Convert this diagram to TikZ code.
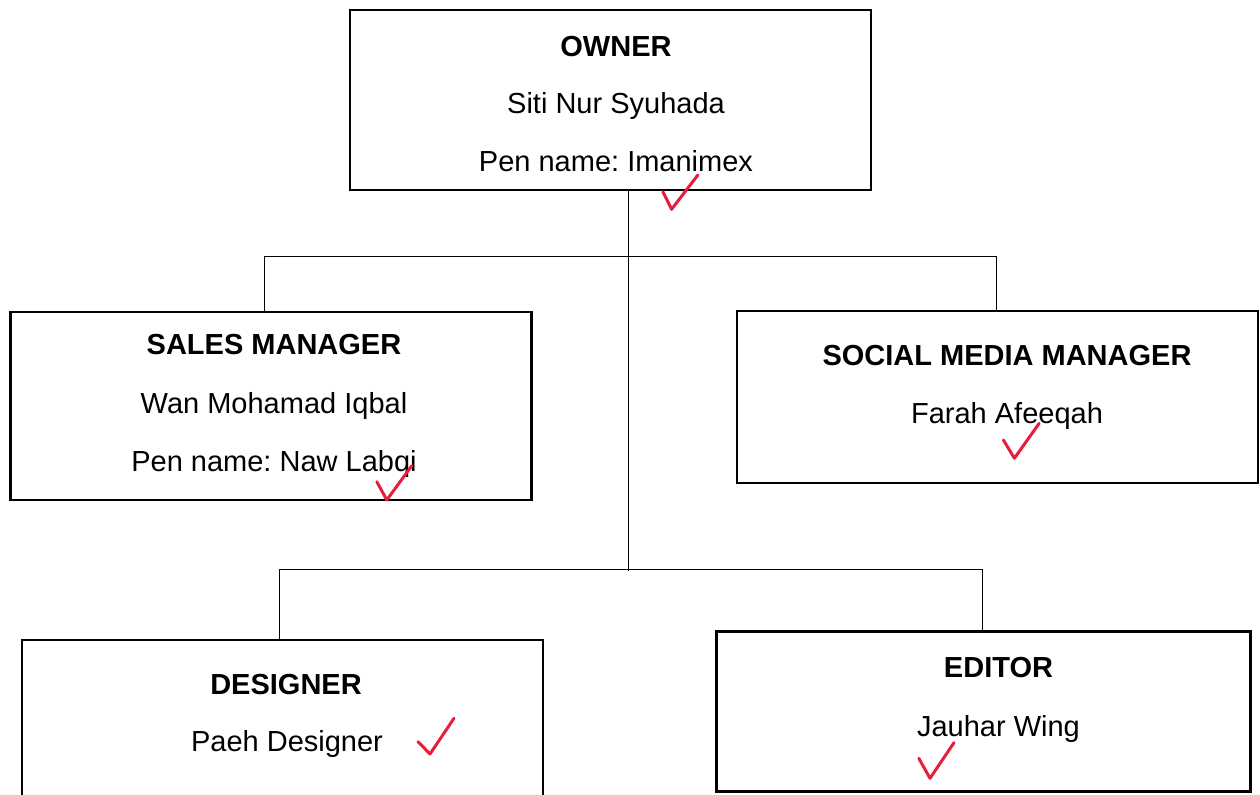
\documentclass[tikz,border=0pt]{standalone}
\usepackage{fontspec}
\setmainfont{Liberation Sans}
\usetikzlibrary{positioning}
\frenchspacing

\definecolor{tickred}{RGB}{228,30,60}

\begin{document}
\begin{tikzpicture}[x=0.5pt, y=-0.5pt,
    font=\fontsize{14.5pt}{17pt}\selectfont,
    post/.style={draw, line width=1.2pt, minimum width=260.5pt, inner sep=0pt},
    role/.style={anchor=base, font=\fontsize{14.5pt}{17pt}\selectfont\bfseries},
    who/.style={anchor=base},
    link/.style={line width=0.5pt},
    redcheck/.style={draw=tickred, line width=1.5pt, line cap=round, line join=round}]
  \clip (0,0) rectangle (1260,795);

  % boxes
  \node[post, minimum height=90pt] (owner) at (610.5,100) {};
  \node[post, minimum height=94pt] (sales) at (270.8,406) {};
  \node[post, minimum height=86pt] (social) at (997.2,397) {};
  \node[post, minimum height=100pt] (designer) at (282.5,740) {};
  \node[post, minimum width=267pt, minimum height=80pt] (editor) at (983.5,711.5) {};

  \node[role] (ownerrole) at (616,56.7) {OWNER};
  \node[who] (ownername) at (616,113.3) {Siti Nur Syuhada};
  \node[who] (ownerpen) at (616,171.7) {Pen name: Imanimex};

  \node[role] (salesrole) at (274,355) {SALES MANAGER};
  \node[who] (salesname) at (274,413.3) {Wan Mohamad Iqbal};
  \node[who] (salespen) at (274,471.7) {Pen name: Naw Labqi};

  \node[role] (socialrole) at (1007,366) {SOCIAL MEDIA MANAGER};
  \node[who] (socialname) at (1007,423.3) {Farah Afeeqah};

  \node[role] (designerrole) at (286,695) {DESIGNER};
  \node[who] (designername) at (287,751.7) {Paeh Designer};

  \node[role] (editorrole) at (998.5,678) {EDITOR};
  \node[who] (editorname) at (998.5,736.7) {Jauhar Wing};

  % tree lines
  \coordinate (hubA) at (628,257);
  \coordinate (hubB) at (628,571);
  \coordinate (dropS) at (264,257);
  \coordinate (dropM) at (996,257);
  \coordinate (dropD) at (279,570);
  \coordinate (dropE) at (982.3,570);
  \draw[link] (owner.south -| hubA) -- (hubB);
  \draw[link] (dropS |- sales.north) -- (dropS) -- (dropM) -- (dropM |- social.north);
  \draw[link] (dropD |- designer.north) -- (dropD) -- (dropE) -- (dropE |- editor.north);

  % ticks
  \draw[redcheck] (662.8,191.7) -- (671.6,209.3) -- (697.9,175);
  \draw[redcheck] (376.8,481.7) -- (386.8,500) -- (411.8,465.7);
  \draw[redcheck] (1003.4,440) -- (1014.4,458.3) -- (1039.2,423.3);
  \draw[redcheck] (418,741.7) -- (430,754) -- (454,718.3);
  \draw[redcheck] (918.8,758.3) -- (930,778.3) -- (954,742.7);
\end{tikzpicture}
\end{document}
